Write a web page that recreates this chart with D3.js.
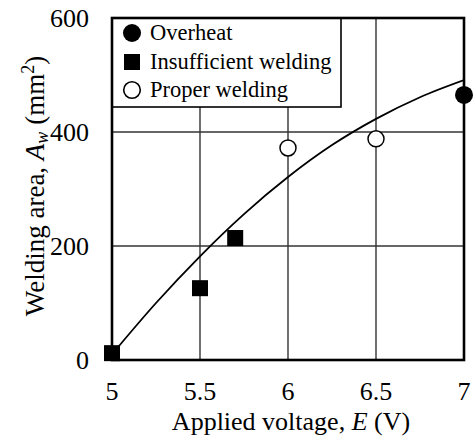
<!DOCTYPE html>
<html>
<head>
<meta charset="utf-8">
<script src="https://cdn.jsdelivr.net/npm/d3@7"></script>
<style>
  html, body { margin: 0; padding: 0; background: #fff; }
  svg { display: block; }
</style>
</head>
<body>
<svg id="chart" width="475" height="441"></svg>
<script>
// Measured welding area per applied voltage, grouped by outcome
const overheatV = [7.0];
const overheatA = [465];
const insufficientV = [5.0, 5.5, 5.7];
const insufficientA = [12, 126, 214];
const properV = [6.0, 6.5];
const properA = [372, 388];

// Trend curve through the data
const trendV = [5.0, 5.25, 5.5, 5.75, 6.0, 6.25, 6.5, 6.75, 7.0];
const trendA = [10, 100, 182, 256, 321, 377, 423, 461, 491];

const xTicks = [5, 5.5, 6, 6.5, 7];
const xTickLabels = ["5", "5.5", "6", "6.5", "7"];
const yTicks = [0, 200, 400, 600];
const yTickLabels = ["0", "200", "400", "600"];
const legendLabels = ["Overheat", "Insufficient welding", "Proper welding"];

const FONT = "'Liberation Serif', 'Times New Roman', Times, 'DejaVu Serif', serif";

const svg = d3.select("#chart").attr("font-family", FONT);
const m = { left: 112, top: 18, right: 464, bottom: 360 };

const x = d3.scaleLinear().domain([5, 7]).range([m.left, m.right]);
const y = d3.scaleLinear().domain([0, 600]).range([m.bottom, m.top]);

// Grid lines
const grid = svg.append("g").attr("stroke", "#333").attr("stroke-width", 1.4);
grid.selectAll("line.v").data(xTicks.slice(1, -1)).enter().append("line")
  .attr("x1", d => x(d)).attr("x2", d => x(d))
  .attr("y1", m.top).attr("y2", m.bottom);
grid.selectAll("line.h").data(yTicks.slice(1, -1)).enter().append("line")
  .attr("y1", d => y(d)).attr("y2", d => y(d))
  .attr("x1", m.left).attr("x2", m.right);

// Clip for the curve
svg.append("clipPath").attr("id", "plotClip").append("rect")
  .attr("x", m.left).attr("y", m.top)
  .attr("width", m.right - m.left).attr("height", m.bottom - m.top);

const line = d3.line().x(d => x(d[0])).y(d => y(d[1])).curve(d3.curveMonotoneX);
svg.append("path")
  .datum(trendV.map((v, i) => [v, trendA[i]]))
  .attr("clip-path", "url(#plotClip)")
  .attr("d", line)
  .attr("fill", "none").attr("stroke", "#000").attr("stroke-width", 1.8);

// Legend box
const lg = svg.append("g");
lg.append("rect")
  .attr("x", m.left).attr("y", m.top)
  .attr("width", 229).attr("height", 89)
  .attr("fill", "#fff").attr("stroke", "#000").attr("stroke-width", 1.6);

const rowY = [33, 62, 90];
const symX = 132;
lg.append("circle").attr("cx", symX).attr("cy", rowY[0]).attr("r", 9).attr("fill", "#000");
lg.append("rect").attr("x", symX - 8).attr("y", rowY[1] - 8).attr("width", 16).attr("height", 16).attr("fill", "#000");
lg.append("circle").attr("cx", symX).attr("cy", rowY[2]).attr("r", 8.3)
  .attr("fill", "#fff").attr("stroke", "#000").attr("stroke-width", 1.6);
lg.selectAll("text").data(legendLabels).enter().append("text")
  .attr("x", 150).attr("y", (d, i) => rowY[i] + 7)
  .attr("font-size", 22.5)
  .text(d => d);

// Axis frame
svg.append("rect")
  .attr("x", m.left).attr("y", m.top)
  .attr("width", m.right - m.left).attr("height", m.bottom - m.top)
  .attr("fill", "none").attr("stroke", "#000").attr("stroke-width", 2.6);

// Tick labels
svg.append("g").selectAll("text").data(xTicks).enter().append("text")
  .attr("x", d => x(d)).attr("y", 400)
  .attr("text-anchor", "middle").attr("font-size", 26)
  .text((d, i) => xTickLabels[i]);
svg.append("g").selectAll("text").data(yTicks).enter().append("text")
  .attr("x", 89).attr("y", d => y(d) + 9)
  .attr("text-anchor", "end").attr("font-size", 26)
  .text((d, i) => yTickLabels[i]);

// Axis titles
const xt = svg.append("text").attr("x", 291).attr("y", 430)
  .attr("text-anchor", "middle").attr("font-size", 26);
xt.append("tspan").text("Applied voltage, ");
xt.append("tspan").attr("font-style", "italic").text("E");
xt.append("tspan").text(" (V)");

const yt = svg.append("text")
  .attr("transform", "translate(44,186) rotate(-90)")
  .attr("text-anchor", "middle").attr("font-size", 27);
yt.append("tspan").text("Welding area, ");
yt.append("tspan").attr("font-style", "italic").text("A");
yt.append("tspan").attr("font-style", "italic").attr("font-size", 18).attr("dy", 4).text("w");
yt.append("tspan").attr("dy", -4).text(" (mm");
yt.append("tspan").attr("font-size", 18).attr("dy", -10).text("2");
yt.append("tspan").attr("dy", 10).text(")");

// Data markers
const marks = svg.append("g");
marks.selectAll("rect").data(insufficientV.map((v, i) => [v, insufficientA[i]])).enter().append("rect")
  .attr("x", d => x(d[0]) - 8).attr("y", d => y(d[1]) - 8)
  .attr("width", 16).attr("height", 16).attr("fill", "#000");
marks.selectAll("circle.p").data(properV.map((v, i) => [v, properA[i]])).enter().append("circle")
  .attr("cx", d => x(d[0])).attr("cy", d => y(d[1])).attr("r", 8)
  .attr("fill", "#fff").attr("stroke", "#000").attr("stroke-width", 1.5);
marks.selectAll("circle.o").data(overheatV.map((v, i) => [v, overheatA[i]])).enter().append("circle")
  .attr("cx", d => x(d[0])).attr("cy", d => y(d[1])).attr("r", 9)
  .attr("fill", "#000");
</script>
</body>
</html>
